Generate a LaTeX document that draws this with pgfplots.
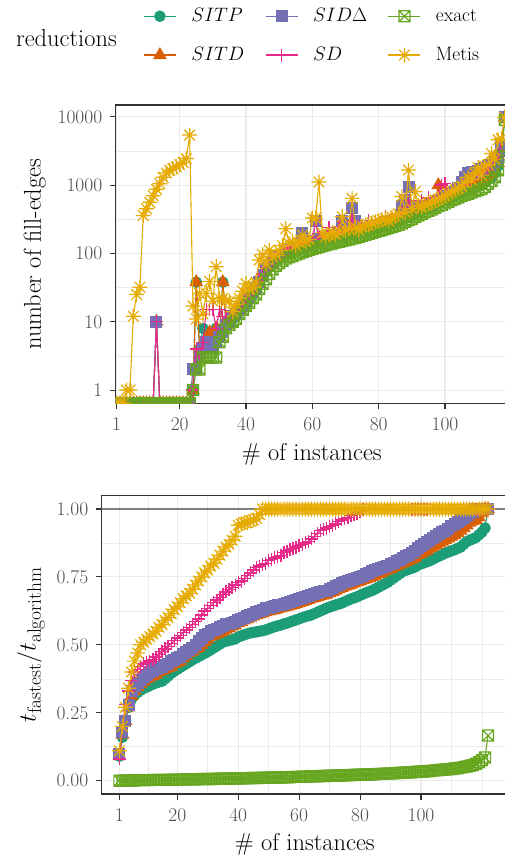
\RequirePackage{fix-cm}
\documentclass[border=0pt]{standalone}
\usepackage{pgfplots}
\usepackage{pgfplotstable}
\pgfplotsset{compat=1.18}
\definecolor{cP}{HTML}{1B9E77}
\definecolor{cT}{HTML}{D95F02}
\definecolor{cD}{HTML}{7570B3}
\definecolor{cS}{HTML}{E7298A}
\definecolor{cE}{HTML}{66A61E}
\definecolor{cM}{HTML}{E6AB02}
\definecolor{gray20}{HTML}{333333}
\definecolor{gray30}{HTML}{4D4D4D}
\definecolor{gray92}{HTML}{EBEBEB}
\definecolor{hline}{HTML}{7F7F7F}
\pgfdeclareplotmark{boxx}{%
  \pgfpathrectangle{\pgfpoint{-\pgfplotmarksize}{-\pgfplotmarksize}}{\pgfpoint{2\pgfplotmarksize}{2\pgfplotmarksize}}%
  \pgfpathmoveto{\pgfpoint{-\pgfplotmarksize}{-\pgfplotmarksize}}\pgfpathlineto{\pgfpoint{\pgfplotmarksize}{\pgfplotmarksize}}%
  \pgfpathmoveto{\pgfpoint{-\pgfplotmarksize}{\pgfplotmarksize}}\pgfpathlineto{\pgfpoint{\pgfplotmarksize}{-\pgfplotmarksize}}%
  \pgfusepathqstroke}
\pgfdeclareplotmark{star8}{%
  \pgfpathmoveto{\pgfpoint{-\pgfplotmarksize}{0pt}}\pgfpathlineto{\pgfpoint{\pgfplotmarksize}{0pt}}%
  \pgfpathmoveto{\pgfpoint{0pt}{-\pgfplotmarksize}}\pgfpathlineto{\pgfpoint{0pt}{\pgfplotmarksize}}%
  \pgfpathmoveto{\pgfpoint{-0.7071\pgfplotmarksize}{-0.7071\pgfplotmarksize}}\pgfpathlineto{\pgfpoint{0.7071\pgfplotmarksize}{0.7071\pgfplotmarksize}}%
  \pgfpathmoveto{\pgfpoint{-0.7071\pgfplotmarksize}{0.7071\pgfplotmarksize}}\pgfpathlineto{\pgfpoint{0.7071\pgfplotmarksize}{-0.7071\pgfplotmarksize}}%
  \pgfusepathqstroke}
\newcommand{\subsz}[1]{\mbox{\fontsize{19.5}{20}\selectfont #1}}
\pgfplotsset{
  sP/.style={cP, line width=1.1bp, mark=*, mark size=5.3bp, mark options={solid, fill=cP, draw=cP, line width=1bp}},
  sT/.style={cT, line width=1.1bp, mark=triangle*, mark size=7bp, mark options={solid, fill=cT, draw=cT, line width=1bp}},
  sD/.style={cD, line width=1.1bp, mark=square*, mark size=5.5bp, mark options={solid, fill=cD, draw=cD, line width=1bp}},
  sS/.style={cS, line width=1.1bp, mark=+, mark size=6.5bp, mark options={solid, draw=cS, line width=1.3bp}},
  sE/.style={cE, line width=1.1bp, mark=boxx, mark size=5.5bp, mark options={solid, draw=cE, fill=none, line width=1.2bp}},
  sM/.style={cM, line width=1.1bp, mark=star8, mark size=7.5bp, mark options={solid, draw=cM, line width=1.2bp}},
  gg/.style={
    scale only axis,
    axis line style={gray20, line width=1.1bp},
    tick style={gray20, line width=1.1bp},
    major tick length=6bp, minor tick length=0bp,
    tick align=outside, tick pos=left,
    grid style={gray92, line width=1.1bp},
    minor grid style={gray92, line width=0.55bp},
    tick label style={font=\fontsize{19.5}{22}\selectfont, text=gray30},
    xticklabel style={yshift=-5bp},
    yticklabel style={xshift=-4bp},
    /pgf/number format/assume math mode=true,
    label style={font=\fontsize{24.5}{29}\selectfont},
    xlabel style={yshift=-5bp},
    ylabel style={yshift=5bp},
    clip marker paths=true,
  },
}
\pgfplotstableread{
x E P T D S M
1 0.64 0.64 0.64 0.64 0.64 0.64
2 0.64 0.64 0.64 0.64 0.64 0.64
3 0.64 0.64 0.64 0.64 0.64 0.64
4 0.64 0.64 0.64 0.64 0.64 1
5 0.64 0.64 0.64 0.64 0.64 1
6 0.64 0.64 0.64 0.64 0.64 12
7 0.64 0.64 0.64 0.64 0.64 25
8 0.64 0.64 0.64 0.64 0.64 32
9 0.64 0.64 0.64 0.64 0.64 360
10 0.64 0.64 0.64 0.64 0.64 450
11 0.64 0.64 0.64 0.64 0.64 560
12 0.64 0.64 0.64 0.64 0.64 700
13 0.64 10 10 10 10 870
14 0.64 0.64 0.64 0.64 0.64 1050
15 0.64 0.64 0.64 0.64 0.64 1300
16 0.64 0.64 0.64 0.64 0.64 1500
17 0.64 0.64 0.64 0.64 0.64 1650
18 0.64 0.64 0.64 0.64 0.64 1750
19 0.64 0.64 0.64 0.64 0.64 1850
20 0.64 0.64 0.64 0.64 0.64 2000
21 0.64 0.64 0.64 0.64 0.64 2150
22 0.64 0.64 0.64 0.64 0.64 2450
23 0.64 0.64 0.64 0.64 0.64 5400
24 1 1 1 2 1 17
25 2 38 38 2 4 11
26 2 4 4 3 3 26
27 3 8 4 4 5 13
28 3 5 5 5 15 26
29 3 6 7 5 15 39
30 3 5 5 4 15 20
31 3 8 8 5 8 64
32 5 6 6 6 15 22
33 6 38 38 7 12 22
34 8 9 9 9 12 20
35 9 10 10 10 11 20
36 10 11 12 12 12 14
37 11 12 13 13 14 18
38 13 14 15 15 16 22
39 15 16 17 17 19 28
40 17 18 19 20 22 36
41 19 21 22 23 25 30
42 22 25 26 27 28 32
43 25 30 30 31 32 38
44 30 36 36 38 40 80
45 36 44 45 48 50 96
46 42 55 56 60 62 70
47 50 62 64 66 70 112
48 58 70 72 74 80 90
49 66 78 80 82 88 95
50 72 84 86 90 95 110
51 78 90 92 96 100 130
52 84 96 98 104 110 230
53 88 100 104 110 115 140
54 92 108 110 118 120 150
55 96 112 116 122 125 130
56 100 118 120 126 130 145
57 104 122 125 200 135 185
58 108 126 130 135 140 150
59 112 130 135 140 150 160
60 116 135 140 150 160 330
61 120 140 150 300 300 330
62 124 145 155 160 170 1110
63 128 150 160 165 175 200
64 132 155 165 170 180 175
65 136 160 170 175 240 190
66 140 165 175 180 190 200
67 144 168 180 185 195 190
68 148 172 185 190 250 210
69 152 176 190 300 200 345
70 156 180 195 200 205 220
71 160 185 200 260 210 230
72 165 190 205 455 300 640
73 170 195 210 300 220 240
74 176 200 215 220 230 220
75 182 205 220 225 240 250
76 188 212 225 230 250 260
77 194 220 232 238 300 260
78 200 226 240 245 260 280
79 207 234 248 252 270 290
80 214 242 256 260 300 300
81 221 250 264 268 290 310
82 228 258 272 276 350 320
83 236 266 280 285 310 300
84 244 275 290 295 320 340
85 252 285 300 305 330 350
86 262 296 310 320 350 380
87 275 310 325 500 400 680
88 290 325 340 600 370 400
89 305 340 360 940 600 1660
90 320 355 380 500 400 450
91 340 380 400 420 430 800
92 360 400 420 440 450 500
93 380 420 440 460 600 480
94 400 440 460 480 500 520
95 420 460 480 500 650 540
96 440 480 520 520 540 560
97 465 510 560 550 570 600
98 490 540 1000 580 700 620
99 515 570 600 620 1000 650
100 540 600 640 660 1050 700
101 570 630 680 700 740 750
102 600 660 720 750 780 800
103 630 700 760 800 820 850
104 660 730 800 900 880 900
105 690 770 850 1100 950 950
106 720 800 900 1300 1000 1100
107 750 840 950 1500 1200 1300
108 780 880 1000 1550 1300 1200
109 810 920 1050 1500 1400 1500
110 840 960 1100 1600 1500 1800
111 880 1000 1150 1700 1600 1400
112 940 1100 1250 1800 1700 1900
113 1050 1200 1350 1900 1800 2000
114 1150 1300 1500 2000 2000 2900
115 1300 1500 1700 2200 2200 2400
116 1650 1900 2100 2500 2600 4600
117 2600 3000 3500 4000 4200 4800
118 9000 9800 9800 9800 9800 9800
}\toptab
\pgfplotstableread{
x P T D S E M
1 .09 .09 .10 .08 .000 .11
2 .16 .17 .18 .20 .000 .20
3 .22 .22 .22 .28 .001 .27
4 .27 .27 .28 .33 .001 .34
5 .30 .31 .33 .37 .001 .40
6 .315 .33 .35 .40 .001 .44
7 .325 .345 .36 .41 .002 .47
8 .333 .355 .37 .42 .002 .50
9 .34 .365 .38 .43 .002 .51
10 .345 .375 .39 .435 .002 .52
11 .35 .38 .40 .44 .002 .53
12 .355 .385 .405 .445 .003 .54
13 .36 .39 .41 .455 .003 .55
14 .363 .40 .415 .465 .003 .565
15 .366 .405 .42 .475 .003 .575
16 .375 .41 .425 .485 .003 .59
17 .385 .415 .43 .495 .003 .60
18 .395 .42 .44 .505 .004 .615
19 .403 .43 .445 .515 .004 .63
20 .41 .435 .45 .525 .004 .64
21 .417 .44 .455 .535 .004 .655
22 .424 .45 .465 .545 .004 .67
23 .431 .46 .475 .555 .005 .68
24 .438 .47 .48 .565 .005 .69
25 .445 .475 .49 .575 .005 .705
26 .451 .485 .50 .585 .005 .72
27 .457 .49 .515 .595 .005 .735
28 .463 .50 .525 .61 .006 .75
29 .469 .51 .535 .625 .006 .765
30 .475 .52 .54 .635 .006 .775
31 .482 .53 .55 .645 .006 .79
32 .489 .535 .555 .655 .006 .80
33 .496 .54 .56 .665 .007 .815
34 .503 .545 .565 .675 .007 .83
35 .51 .55 .57 .685 .007 .845
36 .513 .556 .575 .695 .007 .86
37 .516 .562 .578 .705 .008 .87
38 .519 .568 .58 .712 .008 .885
39 .522 .572 .583 .72 .008 .90
40 .529 .58 .59 .73 .009 .94
41 .533 .585 .595 .735 .009 .945
42 .537 .59 .60 .745 .009 .95
43 .541 .595 .605 .755 .009 .95
44 .544 .60 .61 .765 .010 .955
45 .546 .605 .615 .775 .010 .96
46 .548 .61 .62 .785 .010 .965
47 .55 .613 .625 .79 .010 .98
48 .552 .616 .63 .795 .011 1
49 .555 .62 .635 .80 .011 1
50 .559 .623 .637 .81 .011 1
51 .563 .626 .64 .815 .012 1
52 .567 .629 .642 .82 .012 1
53 .57 .632 .645 .825 .012 1
54 .573 .635 .647 .83 .012 1
55 .577 .638 .65 .84 .013 1
56 .58 .641 .654 .845 .013 1
57 .584 .644 .658 .85 .013 1
58 .588 .647 .662 .855 .014 1
59 .592 .65 .665 .86 .014 1
60 .596 .654 .669 .865 .014 1
61 .60 .658 .673 .87 .015 1
62 .604 .662 .677 .875 .015 1
63 .607 .666 .68 .88 .015 1
64 .61 .67 .684 .89 .016 1
65 .615 .673 .687 .90 .016 1
66 .62 .676 .69 .91 .016 1
67 .625 .679 .694 .92 .017 1
68 .63 .682 .697 .925 .017 1
69 .635 .685 .70 .93 .017 1
70 .639 .69 .705 .935 .018 1
71 .643 .695 .71 .94 .018 1
72 .647 .70 .716 .945 .019 1
73 .65 .705 .722 .955 .019 1
74 .654 .71 .727 .96 .019 1
75 .659 .714 .731 .965 .020 1
76 .664 .718 .735 .97 .020 1
77 .669 .722 .739 .975 .021 1
78 .673 .726 .742 .98 .021 1
79 .677 .73 .745 .985 .022 1
80 .682 .734 .75 .99 .022 1
81 .687 .738 .755 1 .022 1
82 .692 .742 .76 1 .023 1
83 .696 .746 .765 1 .023 1
84 .70 .75 .77 1 .024 1
85 .706 .755 .774 1 .024 1
86 .712 .76 .778 1 .025 1
87 .718 .765 .782 1 .025 1
88 .724 .77 .786 1 .026 1
89 .73 .775 .79 1 .026 1
90 .738 .78 .796 1 .027 1
91 .746 .785 .802 1 .027 1
92 .754 .79 .808 1 .028 1
93 .762 .795 .814 1 .028 1
94 .77 .80 .82 1 .029 1
95 .774 .805 .826 1 .030 1
96 .778 .81 .832 1 .030 1
97 .782 .815 .838 1 .031 1
98 .786 .82 .844 1 .032 1
99 .794 .83 .857 1 .033 1
100 .798 .836 .864 1 .034 1
101 .802 .842 .871 1 .034 1
102 .806 .848 .878 1 .035 1
103 .81 .855 .886 1 .036 1
104 .816 .862 .893 1 .037 1
105 .822 .868 .90 1 .038 1
106 .827 .874 .907 1 .039 1
107 .832 .88 .914 1 .040 1
108 .838 .886 .92 1 .041 1
109 .842 .892 .928 1 .042 1
110 .846 .898 .936 1 .043 1
111 .85 .905 .944 1 .045 1
112 .855 .912 .952 1 .046 1
113 .86 .92 .96 1 .048 1
114 .87 .93 .968 1 .050 1
115 .88 .94 .976 1 .052 1
116 .885 .95 .985 1 .055 1
117 .89 .955 .99 1 .058 1
118 .895 .96 1 1 .062 1
119 .905 .97 1 1 .068 1
120 .915 .985 1 1 .075 1
121 .93 1 1 1 .085 1
122 1 1 1 1 .166 1
}\bottab
\begin{document}
\begin{tikzpicture}
\begin{axis}[gg,
  at={(115.7bp,453.7bp)}, anchor=south west,
  width=392.3bp, height=298.3bp,
  xmin=0.7, xmax=119, ymode=log, ymin=0.64, ymax=14890,
  xtick={1,20,40,60,80,100},
  ytick={1,10,100,1000,10000}, yticklabels={1,10,100,1000,10000},
  minor ytick={3.1623,31.623,316.23,3162.3},
  xmajorgrids, ymajorgrids, yminorgrids,
  xlabel={\# of instances}, ylabel={number of fill-edges},
  legend columns=3,
  legend cell align=left,
  legend style={at={(axis description cs:0.07,1.335)}, anchor=north west,
    draw=none, fill=none, inner sep=0pt, row sep=16.8bp,
    font=\fontsize{19.5}{22}\selectfont,
    nodes={text height=14bp, text depth=4bp},
    /tikz/every odd column/.append style={column sep=13bp},
    /tikz/every even column/.append style={column sep=18.7bp}},
  legend image code/.code={\draw[mark repeat=2,mark phase=2] plot coordinates {(0bp,0bp) (16bp,0bp) (32bp,0bp)};},
]
\addlegendimage{sP}\addlegendentry{$SITP$}
\addlegendimage{sD}\addlegendentry{$SID\Delta$}
\addlegendimage{sE}\addlegendentry{exact}
\addlegendimage{sT}\addlegendentry{$SITD$}
\addlegendimage{sS}\addlegendentry{$SD$}
\addlegendimage{sM}\addlegendentry{Metis}
\addplot[sP, forget plot] table[x=x,y=P]{\toptab};
\addplot[sT, forget plot] table[x=x,y=T]{\toptab};
\addplot[sD, forget plot] table[x=x,y=D]{\toptab};
\addplot[sS, forget plot] table[x=x,y=S]{\toptab};
\addplot[sE, forget plot] table[x=x,y=E]{\toptab};
\addplot[sM, forget plot] table[x=x,y=M]{\toptab};
\end{axis}
\node[anchor=west, inner sep=0pt, font=\fontsize{24.5}{29}\selectfont] at (16bp,819.3bp) {reductions};
\begin{axis}[gg,
  at={(101.7bp,63bp)}, anchor=south west,
  width=406.3bp, height=298.3bp,
  xmin=-4.8, xmax=128.55, ymin=-0.049, ymax=1.049,
  xtick={1,20,40,60,80,100}, minor xtick={10.5,30,50,70,90,110,120},
  ytick={0,0.25,0.5,0.75,1}, yticklabels={0.00,0.25,0.50,0.75,1.00},
  minor ytick={0.125,0.375,0.625,0.875},
  xmajorgrids, xminorgrids, ymajorgrids, yminorgrids,
  xlabel={\# of instances}, ylabel={$t_{\subsz{fastest}}/t_{\subsz{algorithm}}$},
]
\addplot[hline, line width=1.6bp, forget plot] coordinates {(-10,1) (140,1)};
\addplot[sP] table[x=x,y=P]{\bottab};
\addplot[sT] table[x=x,y=T]{\bottab};
\addplot[sD] table[x=x,y=D]{\bottab};
\addplot[sS] table[x=x,y=S]{\bottab};
\addplot[sE] table[x=x,y=E]{\bottab};
\addplot[sM] table[x=x,y=M]{\bottab};
\end{axis}
\pgfresetboundingbox
\path[use as bounding box] (0,0) rectangle (505bp,857bp);
\end{tikzpicture}
\end{document}
